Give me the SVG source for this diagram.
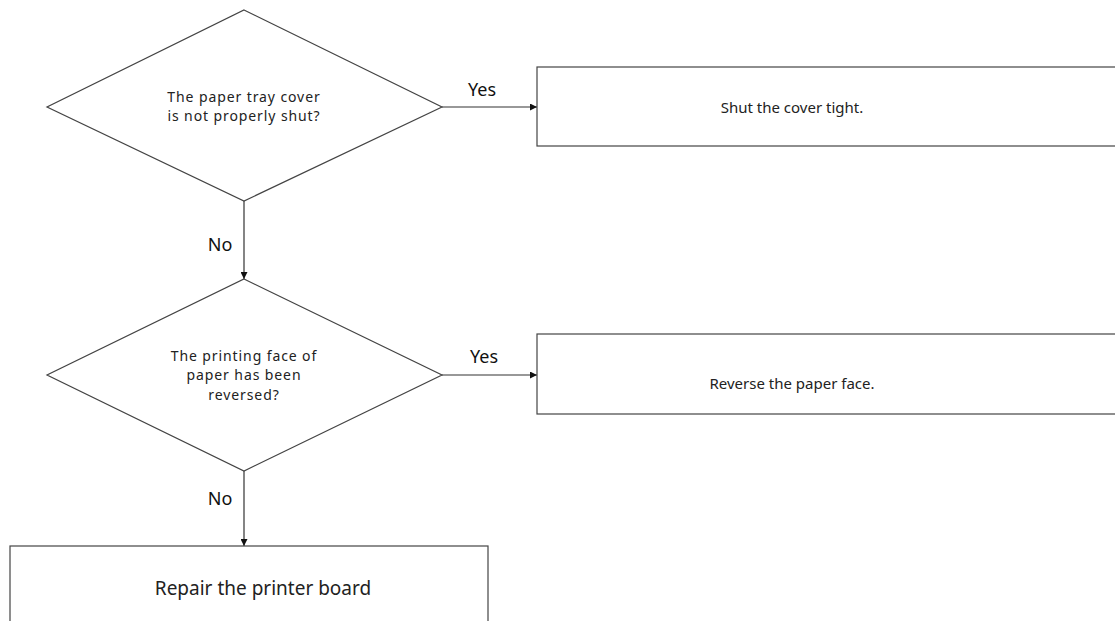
<svg xmlns="http://www.w3.org/2000/svg" width="1115" height="621" viewBox="0 0 1115 621">
<style>
.shape{fill:#fff;stroke:#444;stroke-width:1.2}
.t{font-family:"Noto Sans","Open Sans",sans-serif;font-size:15px;fill:#222;text-anchor:middle}
.d{font-size:14px;letter-spacing:0.9px}
.big{font-size:19px}
.lbl{font-family:"Noto Sans","Open Sans",sans-serif;font-size:18px;fill:#111;text-anchor:middle}
.conn{stroke:#333;stroke-width:1.2;fill:none}
</style>
<defs>
<marker id="arr" viewBox="0 0 10 10" refX="10" refY="5" markerWidth="7" markerHeight="7" orient="auto" markerUnits="userSpaceOnUse">
<path d="M0,0 L10,5 L0,10 z" fill="#111"/>
</marker>
</defs>
<rect width="1115" height="621" fill="#fff"/>
<g id="connectors">
<line class="conn" x1="442" y1="107" x2="537" y2="107" marker-end="url(#arr)"/>
<line class="conn" x1="244" y1="201" x2="244" y2="279" marker-end="url(#arr)"/>
<line class="conn" x1="442" y1="375" x2="537" y2="375" marker-end="url(#arr)"/>
<line class="conn" x1="244" y1="471" x2="244" y2="546" marker-end="url(#arr)"/>
<text class="lbl" x="482" y="96">Yes</text>
<text class="lbl" x="220" y="251">No</text>
<text class="lbl" x="484" y="363">Yes</text>
<text class="lbl" x="220" y="505">No</text>
</g>
<g id="decision1">
<polygon class="shape" points="244,10 442,107 244,201 47,107"/>
<text class="t d" x="244" y="101.5">The paper tray cover</text>
<text class="t d" x="244" y="121">is not properly shut?</text>
</g>
<g id="action1">
<rect class="shape" x="537" y="67" width="590" height="79"/>
<text class="t" x="792" y="113">Shut the cover tight.</text>
</g>
<g id="decision2">
<polygon class="shape" points="244,279 442,375 244,471 47,375"/>
<text class="t d" x="244" y="360.5">The printing face of</text>
<text class="t d" x="244" y="380">paper has been</text>
<text class="t d" x="244" y="399.5">reversed?</text>
</g>
<g id="action2">
<rect class="shape" x="537" y="334" width="590" height="80"/>
<text class="t" x="792" y="389">Reverse the paper face.</text>
</g>
<g id="action3">
<rect class="shape" x="10" y="546" width="478" height="90"/>
<text class="t big" x="263" y="595">Repair the printer board</text>
</g>
</svg>
